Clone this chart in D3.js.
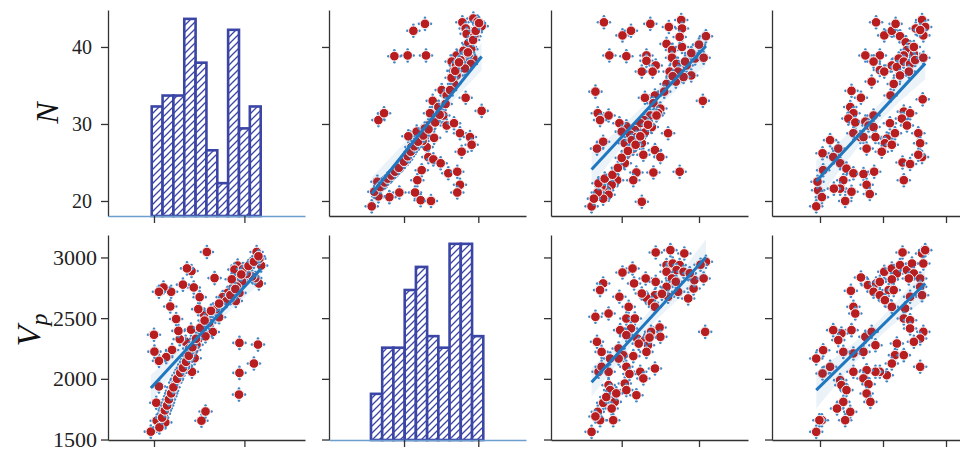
<!DOCTYPE html>
<html><head><meta charset="utf-8">
<script src="https://cdn.jsdelivr.net/npm/d3@7/dist/d3.min.js"></script>
<style>body{margin:0;background:#fff}svg{display:block}</style>
</head><body>
<svg id="c" width="960" height="449"></svg>
<script>
// ---------- data ----------
const rowLabels = ["N", "V"];
const nTicks = [20, 30, 40];
const vpTicks = [1500, 2000, 2500, 3000];
const nXTicks = [20, 40];
const vpXTicks = [2000, 3000];
const x3Ticks = [1, 2];
const x4Ticks = [0, 1, 2];

const nHistEdges = [19.5, 21.9, 24.3, 26.7, 29.2, 31.6, 34.0, 36.4, 38.8, 41.2, 43.6];
const nHistCounts = [10, 11, 11, 18, 14, 6, 3, 17, 8, 10];
const vpHistEdges = [1555, 1706, 1857, 2009, 2160, 2311, 2462, 2613, 2764, 2916, 3067];
const vpHistCounts = [4, 8, 8, 13, 15, 9, 8, 17, 17, 9];

// [Vp, N] observations (shared by the N-Vp and Vp-N panels)
const vpN = [
[2785,43.2],[2933,43.7],[3045,42.7],[2830,42.4],[2843,41.7],[2946,41.4],[2888,40.0],[2865,40.5],
[2282,43.0],[2126,42.1],[1870,38.8],[2049,38.9],[2296,38.9],[2708,38.9],[2798,38.7],[2933,38.5],
[2641,38.1],[2843,38.1],[2753,37.5],[2664,36.9],[2708,36.3],[2673,35.2],[2507,34.4],[2574,33.7],
[2830,33.4],[3045,31.7],[2386,33.0],[2462,32.2],[1655,30.5],[1731,31.4],[2529,31.1],[2417,30.7],
[2574,29.8],[2673,30.1],[2327,29.8],[2238,28.9],[2170,29.0],[2058,28.4],[2753,28.8],[2888,28.3],
[2910,27.3],[2776,26.4],[2305,27.0],[2327,25.7],[2395,25.4],[2493,24.9],[2596,23.6],[2717,23.8],
[2753,22.1],[2717,21.1],[2238,24.0],[2179,22.7],[2148,21.1],[2224,20.1],[2363,20.0],[1937,21.1],
[1803,20.5],[1655,20.6],[1565,19.3],[1641,22.5],[1713,22.2],[1758,22.6],[1803,23.1],[1857,23.6],
[1901,24.0],[1969,24.7],[2027,25.4],[2072,26.1],[2117,26.7],[2161,27.4],[2215,28.0],
[2800,39.5],[2870,39.0],[2760,38.3],[2900,37.8],[2820,37.2],[2990,43.3],[2905,39.7],[2700,37.6],
[2640,36.0],[2350,31.4],[2280,29.4],[2250,27.8],[2405,28.2],[2100,27.0],[1990,25.0],
[1600,21.2],[1680,21.8],[1740,22.4],[1780,22.9],[1830,23.3],[1880,23.8],[1930,24.3],[2000,25.1],
[2050,25.8],[2090,26.4],[2140,27.1],[2190,27.7],[2260,28.5],[2330,29.3],[2420,30.2],[2480,31.2],
[2560,32.6],[2620,34.4],[2690,36.9],[2740,38.0],[2860,39.3],[2930,40.9],[2965,42.1],[3010,43.1]
];

// [x3, N]
const nVsX3 = [
[0.77,43.2],[1.01,41.5],[1.12,42.1],[1.37,43.0],[1.61,42.6],[1.77,43.5],[1.78,42.4],
[0.84,38.9],[1.06,38.8],[1.32,38.9],[1.32,38.2],[1.44,37.6],[1.26,36.8],[1.40,36.8],
[1.58,40.4],[1.65,39.6],[1.78,40.0],[1.65,38.6],[1.71,37.8],[1.62,36.8],[1.73,36.8],[1.84,37.6],
[1.90,36.3],[1.95,38.5],[2.06,38.6],[2.09,41.4],[1.58,35.2],[1.70,35.5],[1.80,36.1],[1.75,41.3],
[0.66,34.2],[2.05,33.0],
[1.43,33.7],[1.30,33.4],[1.41,32.7],[1.50,32.0],[1.47,31.4],[1.37,31.1],[1.29,30.5],[1.39,29.6],
[1.24,30.1],[1.17,29.2],[1.06,29.7],[0.97,30.1],[1.00,29.0],[1.11,28.6],[1.19,28.3],[1.30,28.9],
[0.69,31.4],[0.83,31.1],[0.72,30.5],[1.60,28.8],[0.76,27.7],[0.68,26.8],
[1.04,27.5],[1.15,26.8],[1.26,27.5],[1.28,26.0],[1.43,26.6],[1.50,25.7],[1.06,26.0],[1.04,24.9],[1.13,27.9],
[1.41,23.7],[1.19,23.7],[1.15,22.7],[1.75,23.8],
[0.94,22.7],[0.87,22.1],[0.81,21.4],[0.74,21.9],[0.72,21.0],[0.83,20.8],[0.76,20.3],[0.69,21.1],
[1.26,19.9],[0.61,19.3],
[0.64,20.3],[0.70,22.3],[0.78,22.9],[0.88,23.4],[0.95,24.3],[1.00,25.6],[1.08,26.5],[1.18,27.3],
[1.24,28.4],[1.34,29.9],[1.45,31.1],[1.55,34.2],[1.66,36.2],[1.82,38.1],[1.90,39.2],[2.00,40.3]
];

// [x4, N]
const nVsX4 = [
[0.89,43.2],[1.02,41.5],[1.14,42.1],[1.20,43.0],[1.52,42.4],[1.62,43.5],[1.67,42.6],[1.64,41.5],[1.59,42.2],
[1.27,41.4],[1.36,40.6],[1.43,40.0],[1.38,39.6],[1.49,39.1],[1.33,38.9],[1.25,38.5],[1.14,37.6],[1.22,37.4],
[1.33,38.1],[1.43,37.8],[1.41,36.8],[1.27,36.3],[1.51,38.3],[1.64,38.6],[1.49,40.0],
[0.72,38.9],[0.95,38.9],[0.85,38.1],[0.95,37.0],[1.02,36.8],[0.82,35.5],
[1.17,35.2],[1.12,33.7],
[0.50,34.3],[0.65,33.4],[0.48,32.2],[0.53,31.4],[0.45,30.7],[0.56,30.2],[0.53,28.8],[0.64,28.3],
[0.72,30.3],[0.77,29.8],[0.85,31.1],[0.85,29.6],[0.88,28.3],[0.69,28.3],[0.74,26.8],[1.06,28.1],
[1.11,30.1],[1.19,28.8],[1.03,27.5],[1.14,27.3],[0.98,26.4],
[1.33,31.6],[1.43,31.4],[1.30,30.7],[1.38,29.8],
[1.63,33.2],
[1.56,28.8],[1.59,27.5],[1.62,25.7],[1.56,26.0],
[1.31,25.0],[1.43,24.8],[1.33,22.7],
[0.16,27.9],[0.29,26.8],[0.04,26.2],[0.21,25.7],[0.05,24.0],[0.32,24.9],[0.42,24.2],[0.53,23.6],[0.69,23.5],[0.86,23.8],
[0.37,22.7],[0.32,21.6],[0.22,21.6],[0.50,21.2],[0.74,22.1],[0.79,20.9],[0.40,20.0],[-0.03,21.4],[-0.04,22.5],[0.03,20.5],[-0.06,19.3]
];

// [x3, Vp]
const vpVsX3 = [
[1.44,3041],[1.63,3060],[1.81,3033],
[1.58,2937],[1.66,2950],[1.75,2937],[1.71,2896],[1.58,2882],[1.80,2882],[1.65,2827],[1.58,2758],[1.73,2717],
[1.86,2662],[1.93,2744],[1.94,2813],[2.06,2827],[2.09,2964],
[1.14,2909],[1.01,2876],[1.16,2786],[1.31,2827],[1.44,2799],
[1.43,2689],[1.32,2667],[1.26,2703],[1.39,2626],[1.43,2593],[1.60,2676],
[0.76,2786],[0.72,2731],
[0.97,2676],[1.09,2593],[0.83,2538],[0.66,2511],[1.06,2497],[1.17,2497],
[0.98,2401],[1.12,2415],[1.06,2360],
[1.20,2332],[1.30,2319],[1.37,2360],[1.49,2423],[1.50,2346],[1.34,2277],[1.32,2222],[1.38,2387],
[2.08,2387],
[0.68,2305],[0.74,2222],[0.85,2167],
[0.96,2250],[1.02,2195],[1.15,2187],[1.06,2099],[0.96,2167],
[0.70,2058],[0.83,2058],[0.74,2099],
[1.24,2058],[1.28,2003],[1.43,2085],
[0.83,1948],[0.85,1907],[1.04,1961],[1.06,1907],[1.19,1865],
[0.76,1802],[0.91,1810],[0.87,1755],[0.89,1659],[0.69,1728],[0.72,1659],[0.61,1563],
[0.66,1690],[0.80,1850],[0.93,1880],[1.10,2040],[1.22,2290],[1.36,2340],[1.52,2700],[1.70,2800],[1.88,2870],[2.02,2940]
];

// [x4, Vp]
const vpVsX4 = [
[1.31,3041],[1.62,3033],[1.67,3060],[1.64,2950],
[1.02,2882],[1.14,2909],[1.22,2868],[1.27,2937],[1.38,2896],[1.46,2950],[1.49,2868],[1.59,2827],[1.41,2827],[1.14,2819],
[0.65,2835],[0.76,2772],[0.89,2786],[0.95,2799],[0.85,2717],[0.95,2689],[1.09,2731],[1.17,2731],[1.03,2648],
[1.14,2593],[1.35,2580],[1.43,2676],[1.59,2758],[1.62,2689],[1.33,2497],[1.43,2483],[1.43,2415],[1.64,2387],
[1.59,2332],[1.49,2305],
[0.49,2725],[0.53,2593],[0.56,2538],[0.50,2401],[0.34,2374],[0.21,2401],[0.29,2319],
[0.72,2346],[0.82,2387],[0.88,2277],[0.69,2222],[0.53,2209],[0.37,2222],
[1.22,2291],[1.19,2195],[1.33,2195],[1.14,2126],[1.06,2030],[0.95,2058],[0.88,2058],[0.74,2071],[0.69,2003],
[0.53,2058],[0.77,1956],[0.74,1879],[0.80,1810],
[1.59,2099],
[-0.06,2167],[0.05,2236],[0.16,2099],[0.04,2044],
[0.32,1989],[0.34,1948],[0.42,1907],[0.37,1810],[0.27,1755],[0.48,1728],[0.40,1659],
[0.03,1659],[-0.01,1659],[-0.06,1563]
];

// ---------- layout ----------
const colLeft = [108, 329, 551, 772];
const panelW = 197;
const rowTop = [10, 235];
const rowBottom = [216, 440];

const xScales = [
  d3.scaleLinear().domain([9.83, 53.4]).range([colLeft[0], colLeft[0] + panelW]),
  d3.scaleLinear().domain([990, 3642]).range([colLeft[1], colLeft[1] + panelW]),
  d3.scaleLinear().domain([0.085, 2.634]).range([colLeft[2], colLeft[2] + panelW]),
  d3.scaleLinear().domain([-0.762, 2.365]).range([colLeft[3], colLeft[3] + panelW])
];
const xTickSets = [nXTicks, vpXTicks, x3Ticks, x4Ticks];
const yScales = [
  d3.scaleLinear().domain([18.05, 44.8]).range([rowBottom[0], rowTop[0]]),
  d3.scaleLinear().domain([1496, 3185]).range([rowBottom[1], rowTop[1]])
];
const yTickSets = [nTicks, vpTicks];

const BLUE_HIST = "#3a45a6";
const RED = "#b81d1f";
const LINE = "#1f77c0";
const AXIS = "#333";

const svg = d3.select("#c");
const defs = svg.append("defs");
const pat = defs.append("pattern").attr("id", "hatch").attr("patternUnits", "userSpaceOnUse")
  .attr("width", 7).attr("height", 7);
pat.append("rect").attr("width", 7).attr("height", 7).attr("fill", "#fff");
pat.append("path").attr("d", "M-1,8 L8,-1 M-2,2 L2,-2 M5,9 L9,5")
  .attr("stroke", BLUE_HIST).attr("stroke-width", 1.3);

function drawAxes(r, c, diag) {
  const g = svg.append("g");
  const ya = d3.axisLeft(yScales[r]).tickValues(yTickSets[r]).tickSize(7).tickSizeOuter(0)
    .tickFormat(c === 0 ? d3.format("d") : "");
  const gy = g.append("g").attr("transform", `translate(${colLeft[c]},0)`).call(ya);
  const xa = d3.axisBottom(xScales[c]).tickValues(xTickSets[c]).tickSize(7).tickSizeOuter(0).tickFormat("");
  const gx = g.append("g").attr("transform", `translate(0,${rowBottom[r]})`).call(xa);
  [gy, gx].forEach(a => {
    a.select(".domain").attr("stroke", AXIS).attr("stroke-width", 1.3);
    a.selectAll(".tick line").attr("stroke", AXIS).attr("stroke-width", 1.3);
  });
  gy.selectAll(".tick text").attr("font-family", "'Liberation Serif', 'DejaVu Serif', serif")
    .attr("font-size", r === 0 ? 20 : 22).attr("fill", "#222")
    .attr("x", r === 0 ? -16 : -11);
  if (diag) gx.select(".domain").attr("stroke", "#6b9fd0").attr("stroke-width", 1.6);
}

function drawHist(r, c, edges, counts, xVarScale) {
  const hy = d3.scaleLinear().domain([0, d3.max(counts) * 1.045]).range([rowBottom[r], rowTop[r]]);
  const bins = counts.map((n, i) => ({ x0: edges[i], x1: edges[i + 1], n }));
  svg.append("g").selectAll("rect").data(bins).join("rect")
    .attr("x", d => xVarScale(d.x0)).attr("width", d => xVarScale(d.x1) - xVarScale(d.x0))
    .attr("y", d => hy(d.n)).attr("height", d => hy(0) - hy(d.n))
    .attr("fill", "url(#hatch)").attr("stroke", BLUE_HIST).attr("stroke-width", 2.6);
}

function regress(pts) {
  const n = pts.length;
  const mx = d3.mean(pts, d => d[0]), my = d3.mean(pts, d => d[1]);
  let sxx = 0, sxy = 0;
  pts.forEach(d => { sxx += (d[0] - mx) ** 2; sxy += (d[0] - mx) * (d[1] - my); });
  const b = sxy / sxx, a = my - b * mx;
  let sse = 0; pts.forEach(d => { sse += (d[1] - a - b * d[0]) ** 2; });
  const s = Math.sqrt(sse / (n - 2));
  return { a, b, s, n, mx, sxx };
}

function drawScatter(r, c, pts) {
  const xs = xScales[c], ys = yScales[r];
  const g = svg.append("g");
  const m = g.selectAll("g.pt").data(pts).join("g").attr("class", "pt")
    .attr("transform", d => `translate(${xs(d[0])},${ys(d[1])})`);
  m.append("path").attr("d", "M-7,0L0,-7L7,0L0,7Z").attr("fill", "#cfe2f3").attr("opacity", 0.55);
  [[-6, 0], [6, 0], [0, -6], [0, 6]].forEach(o => {
    m.append("circle").attr("cx", o[0]).attr("cy", o[1]).attr("r", 1.3).attr("fill", "#3f86c6");
  });
  m.append("circle").attr("r", 4.8).attr("fill", RED).attr("stroke", "#fff").attr("stroke-width", 0.9);

  const R = regress(pts);
  const [x0, x1] = d3.extent(pts, d => d[0]);
  const grid = d3.range(0, 41).map(i => x0 + (x1 - x0) * i / 40);
  const band = grid.map(x => {
    const yhat = R.a + R.b * x;
    const se = R.s * Math.sqrt(1 / R.n + (x - R.mx) ** 2 / R.sxx);
    return { x, lo: yhat - 1.96 * se, hi: yhat + 1.96 * se };
  });
  g.append("path").datum(band)
    .attr("d", d3.area().x(d => xs(d.x)).y0(d => ys(d.lo)).y1(d => ys(d.hi)))
    .attr("fill", LINE).attr("opacity", 0.09);
  g.append("line").attr("x1", xs(x0)).attr("y1", ys(R.a + R.b * x0))
    .attr("x2", xs(x1)).attr("y2", ys(R.a + R.b * x1))
    .attr("stroke", LINE).attr("stroke-width", 3);
}

// diag histograms
drawHist(0, 0, nHistEdges, nHistCounts, xScales[0]);
drawHist(1, 1, vpHistEdges, vpHistCounts, xScales[1]);
// scatter panels
drawScatter(0, 1, vpN);
drawScatter(1, 0, vpN.map(d => [d[1], d[0]]));
drawScatter(0, 2, nVsX3);
drawScatter(0, 3, nVsX4);
drawScatter(1, 2, vpVsX3);
drawScatter(1, 3, vpVsX4);

for (let r = 0; r < 2; r++) for (let c = 0; c < 4; c++) drawAxes(r, c, r === c);

// row labels
const serif = "'Liberation Serif', 'DejaVu Serif', serif";
svg.append("text").attr("transform", "translate(58,113) rotate(-90)")
  .attr("text-anchor", "middle").attr("font-family", serif).attr("font-style", "italic")
  .attr("font-size", 32).attr("fill", "#111").text(rowLabels[0]);
const vt = svg.append("text").attr("transform", "translate(40,330) rotate(-90)")
  .attr("text-anchor", "middle").attr("font-family", serif).attr("font-style", "italic")
  .attr("font-size", 34).attr("fill", "#111");
vt.append("tspan").text(rowLabels[1]);
vt.append("tspan").attr("font-size", 24).attr("dy", 7).text("p");
</script>
</body></html>
